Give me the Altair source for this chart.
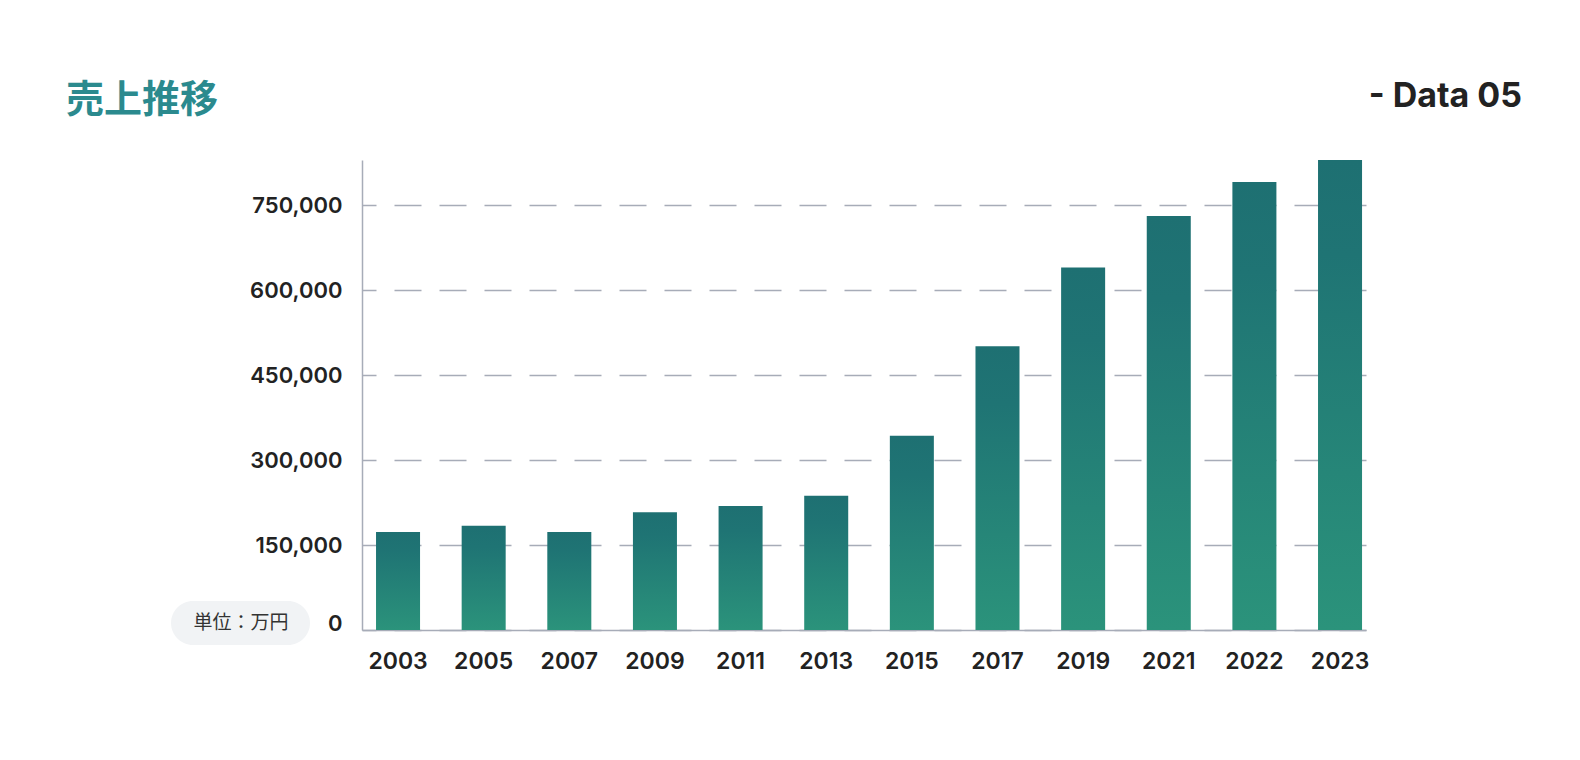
import altair as alt
import pandas as pd

years = ["2003", "2005", "2007", "2009", "2011", "2013", "2015", "2017", "2019", "2021", "2022", "2023"]
sales = [173000, 184000, 173000, 208000, 219000, 237000, 343000, 501000, 640000, 731000, 791000, 830000]
y_ticks = [0, 150000, 300000, 450000, 600000, 750000]
title_text = ["売上推移"]
subtitle_text = ["- Data 05"]
unit_text = ["単位：万円"]

df = pd.DataFrame({"year": years, "sales": sales})

AXIS_GRAY = "#A7ACB8"
TEXT = "#222222"

grad = alt.Gradient(
    gradient="linear",
    stops=[alt.GradientStop(color="#1E7072", offset=0),
           alt.GradientStop(color="#1F7474", offset=0.2),
           alt.GradientStop(color="#2B937B", offset=1)],
    x1=0, x2=0, y1=0, y2=1,
)

bars = alt.Chart(df).mark_bar(color=grad).encode(
    x=alt.X(
        "year:N", sort=years,
        scale=alt.Scale(paddingInner=0.486, paddingOuter=0.105, align=0.78),
        axis=alt.Axis(title=None, labelAngle=0, ticks=False, tickSize=0, domain=True,
                      domainColor=AXIS_GRAY, domainWidth=1.5,
                      labelFont="Inter", labelFontSize=23, labelFontWeight=600,
                      labelColor=TEXT, labelPadding=20),
    ),
    y=alt.Y(
        "sales:Q",
        scale=alt.Scale(domain=[0, 830000], nice=False, zero=True),
        axis=alt.Axis(title=None, values=y_ticks, format=",.0f", grid=True,
                      gridDash=[27, 18], gridDashOffset=13, gridColor=AXIS_GRAY,
                      gridWidth=1.5, ticks=False, tickSize=0, domain=True,
                      domainColor=AXIS_GRAY, domainWidth=1.5,
                      labelFont="Inter", labelFontSize=22, labelFontWeight=600,
                      labelColor=TEXT, labelPadding=20, labelFlush=True,
                      labelFlushOffset=5),
    ),
)

title = alt.Chart(pd.DataFrame({"t": title_text})).mark_text(
    font="Noto Sans CJK JP", fontSize=38, fontWeight="bold", color="#2B8A8E",
    align="left", baseline="alphabetic",
).encode(text="t:N", x=alt.value(-296), y=alt.value(-48))

subtitle = alt.Chart(pd.DataFrame({"t": subtitle_text})).mark_text(
    font="Inter", fontSize=34, fontWeight="bold", color=TEXT,
    align="right", baseline="alphabetic",
).encode(text="t:N", x=alt.value(1160), y=alt.value(-53))

badge = alt.Chart(pd.DataFrame({"t": unit_text})).mark_rect(
    cornerRadius=22, color="#F1F3F5",
).encode(x=alt.value(-191), x2=alt.value(-52), y=alt.value(441), y2=alt.value(485))

badge_text = alt.Chart(pd.DataFrame({"t": unit_text})).mark_text(
    font="Noto Sans CJK JP", fontSize=19, color="#333333",
    align="center", baseline="middle",
).encode(text="t:N", x=alt.value(-121), y=alt.value(463))

chart = alt.layer(bars, title, subtitle, badge, badge_text).properties(
    width=1004, height=470,
    autosize=alt.AutoSizeParams(type="none"),
    padding={"left": 354, "top": 152, "right": 200, "bottom": 110},
    background="white",
).configure_view(stroke=None)

chart.save("out.html", embed_options={"renderer": "svg", "actions": False})
